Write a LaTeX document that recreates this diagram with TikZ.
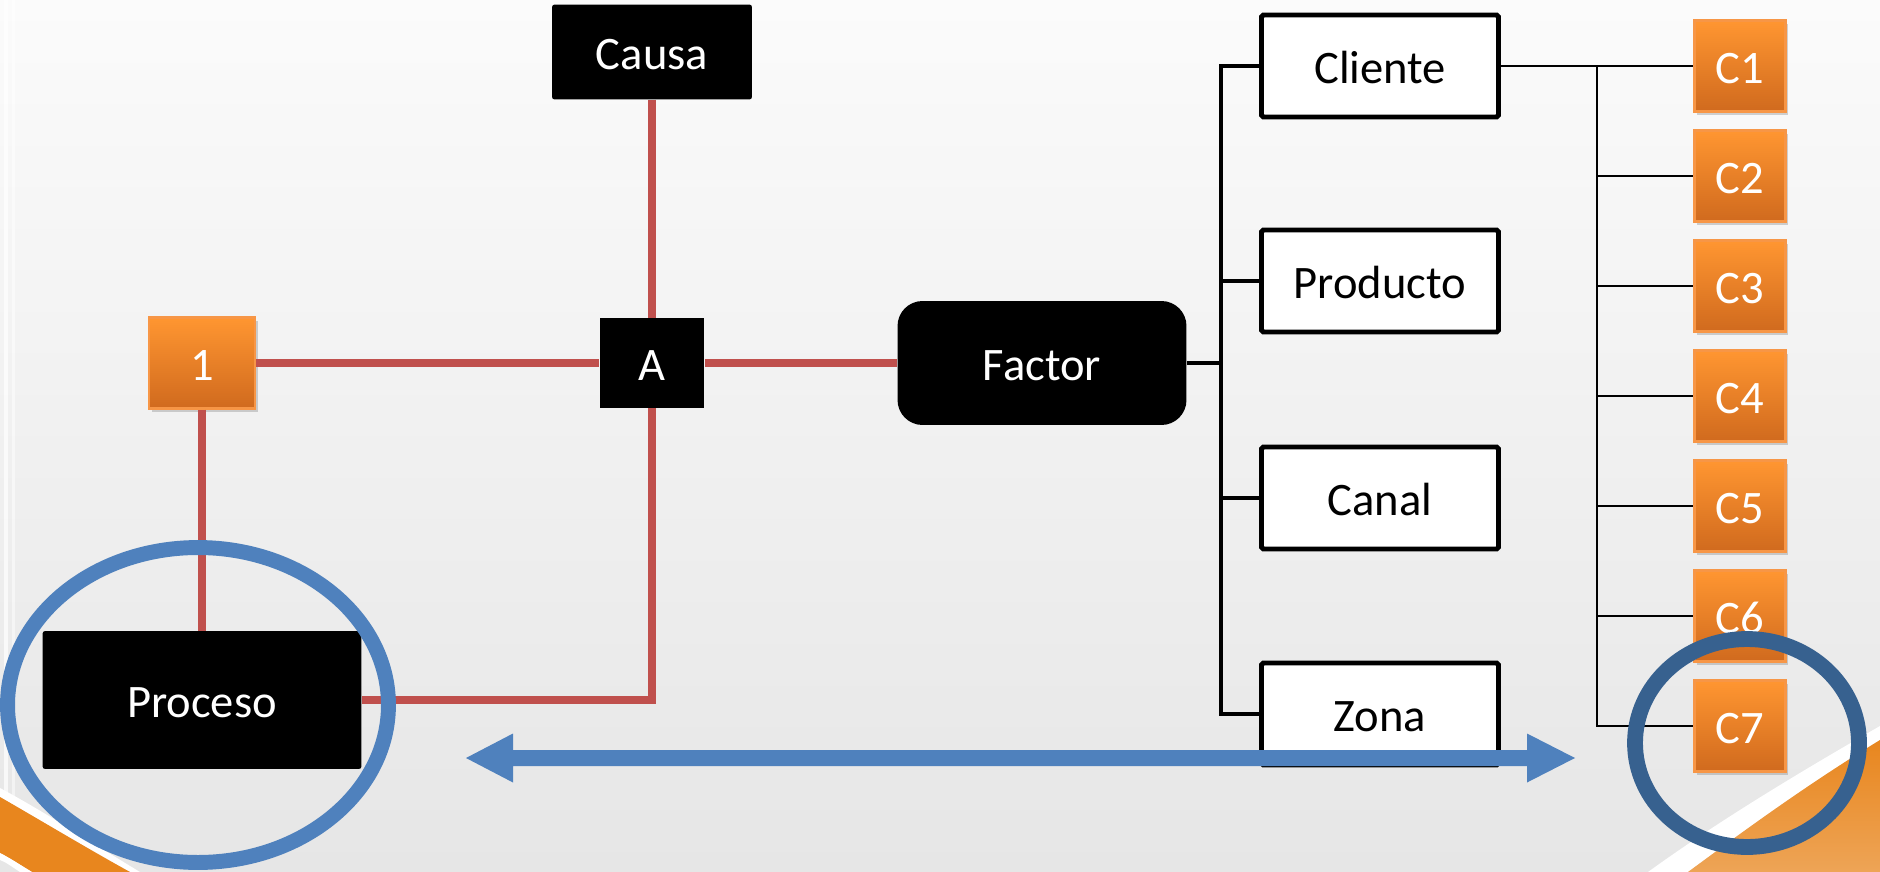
\documentclass[tikz,border=0pt]{standalone}
\usepackage{fontspec}
\setmainfont{Carlito}
\usetikzlibrary{shadows}
\definecolor{bgtop}{HTML}{FBFBFB}
\definecolor{bgbot}{HTML}{E6E6E6}
\definecolor{redl}{HTML}{C0504D}
\definecolor{bluel}{HTML}{4F81BD}
\definecolor{darkbl}{HTML}{37618F}
\definecolor{orgtop}{HTML}{FF9631}
\definecolor{orgbot}{HTML}{D06A1E}
\definecolor{orgedge}{HTML}{F79646}
\definecolor{swoosh}{HTML}{E8861E}
\tikzset{
  txt/.style={font=\fontsize{26.5}{30}\selectfont, text height=22.5pt, text depth=2.6pt},
  blackbox/.style={txt, fill=black, text=white, inner sep=0pt, rounded corners=1.5pt},
  orangebox/.style={txt, top color=orgtop, bottom color=orgbot, draw=orgedge, line width=1.2pt,
    text=white, inner sep=0pt, minimum width=1.82cm, minimum height=1.82cm,
    drop shadow={opacity=0.35, shadow xshift=1.5pt, shadow yshift=-2pt}},
  whitebox/.style={txt, fill=white, draw=black, line width=2.8pt, inner sep=0pt,
    minimum width=4.74cm, minimum height=2.04cm, rounded corners=1pt},
  redline/.style={draw=redl, line width=4.3pt},
  busline/.style={draw=black, line width=2.8pt},
  thinline/.style={draw=black, line width=1.5pt},
  ringl/.style={draw=bluel, line width=8.5pt},
  ringr/.style={draw=darkbl, line width=9pt}
}
\begin{document}
\begin{tikzpicture}[x=0.02cm,y=-0.02cm]
\useasboundingbox (0,0) rectangle (1880,872);
\shade[top color=bgtop,bottom color=bgbot] (0,0) rectangle (1880,872);
% faint left edge lines
\fill[white,opacity=0.7] (4,0) rectangle (8,800);
\fill[white,opacity=0.5] (12,0) rectangle (15,800);
% bottom-left swoosh
\fill[white] (0,788) .. controls (45,812) and (95,845) .. (140,872) -- (130,872) .. controls (90,850) and (40,820) .. (0,797) -- cycle;
\fill[swoosh] (0,797) .. controls (40,820) and (90,850) .. (130,872) -- (32,872) .. controls (22,866) and (10,858) .. (0,853) -- cycle;
\fill[white] (0,853) .. controls (10,858) and (22,866) .. (32,872) -- (20,872) .. controls (12,867) and (6,862) .. (0,860) -- cycle;
% bottom-right swoosh
\fill[white] (1880,726) .. controls (1800,772) and (1720,820) .. (1648,872) -- (1688,872) .. controls (1745,830) and (1805,786) .. (1880,740) -- cycle;
\shade[top color=swoosh, bottom color=swoosh!75!white] (1880,740) .. controls (1805,786) and (1745,830) .. (1688,872) -- (1880,872) -- cycle;

% nodes
\node[blackbox, minimum width=4cm, minimum height=1.9cm] (causa) at (652,52) {Causa};
\node[blackbox, minimum width=2.1cm, minimum height=1.8cm, rounded corners=0pt] (A) at (652,363) {A};
\node[orangebox, minimum width=2.12cm, minimum height=1.82cm] (one) at (202,363) {1};
\node[blackbox, minimum width=6.38cm, minimum height=2.76cm] (proceso) at (202,700) {Proceso};
\node[blackbox, minimum width=5.78cm, minimum height=2.48cm, rounded corners=0.5cm] (factor) at (1042,363) {Factor};

\node[whitebox] (cliente) at (1380,66) {Cliente};
\node[whitebox] (producto) at (1380,281) {Producto};
\node[whitebox] (canal) at (1380,498) {Canal};
\node[whitebox] (zona) at (1380,714) {Zona};

\foreach \i in {1,...,7} {
  \node[orangebox] (C\i) at (1740,{66+110*(\i-1)}) {C\i};
}

% red connectors
\draw[redline] (one.east) -- (A.west);
\draw[redline] (A.east) -- (factor.west);
\draw[redline] (causa.south) -- (A.north);
\draw[redline] (one.south) -- (proceso.north);
\draw[redline] (A.south) |- (proceso.east);

% black bus
\coordinate (bus) at (1221,363);
\draw[busline] (factor.east) -- (bus);
\draw[busline] (cliente.west) -| (bus) |- (zona.west);
\draw[busline] (producto.west) -- (producto.west -| bus);
\draw[busline] (canal.west) -- (canal.west -| bus);

% thin bus
\coordinate (cbus) at (1597,66);
\draw[thinline] (cliente.east) -- (C1.west);
\draw[thinline] (cbus) |- (C7.west);
\foreach \i in {2,...,6} {
  \draw[thinline] (C\i.west -| cbus) -- (C\i.west);
}

% double arrow
\coordinate (la) at (466,758);
\coordinate (ra) at (1575,758);
\fill[bluel] (la) -- (513,733.5) -- (513,750) -- (1527,750) -- (1527,733.5) -- (ra)
  -- (1527,782.5) -- (1527,766) -- (513,766) -- (513,782.5) -- cycle;

% rings
\draw[ringl] (198,705) ellipse [x radius=3.81cm, y radius=3.15cm];
\draw[ringr] (1747,743) ellipse [x radius=2.24cm, y radius=2.08cm];
\end{tikzpicture}
\end{document}
